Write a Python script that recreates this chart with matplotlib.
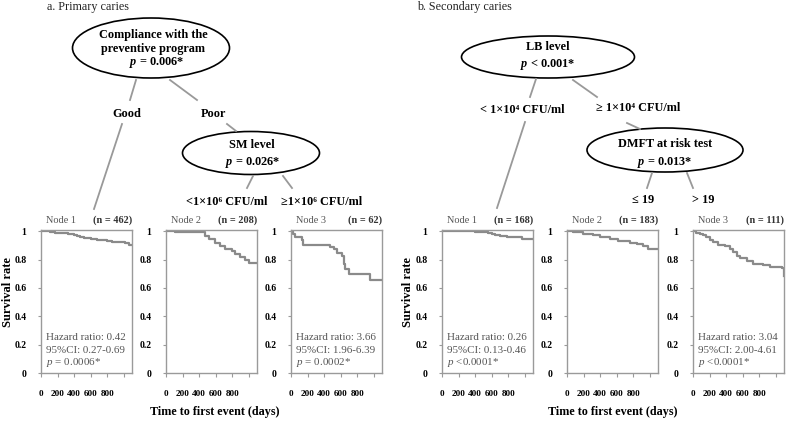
import matplotlib
matplotlib.use("Agg")
import matplotlib.pyplot as plt
from matplotlib.patches import Ellipse

plt.rcParams['font.family'] = ['Liberation Serif', 'DejaVu Serif']
plt.rcParams['mathtext.fontset'] = 'custom'
plt.rcParams['mathtext.rm'] = 'Liberation Serif'
plt.rcParams['mathtext.it'] = 'Liberation Serif:italic'
plt.rcParams['mathtext.bf'] = 'Liberation Serif:bold'
plt.rcParams['mathtext.bfit'] = 'Liberation Serif:italic:bold'

# ---------------- data ----------------
x_ticks = [0, 200, 400, 600, 800, 1000]
x_ticklabels = ["0", "200", "400", "600", "800", ""]
y_ticks = [0, 0.2, 0.4, 0.6, 0.8, 1.0]
y_ticklabels = ["0", "0.2", "0.4", "0.6", "0.8", "1"]
x_max = 1100

# Panel a (primary caries)
a1_t = [0, 60, 110, 170, 230, 271, 330, 393, 430, 474, 520, 555, 610, 676, 740, 798, 860, 919, 970, 1020, 1061]
a1_s = [1.0, 0.998, 0.993, 0.990, 0.987, 0.984, 0.977, 0.970, 0.964, 0.958, 0.953, 0.949, 0.944, 0.939, 0.934, 0.930, 0.926, 0.923, 0.920, 0.916, 0.902]
a2_t = [0, 109, 474, 514, 595, 656, 717, 798, 838, 899, 960, 1000]
a2_s = [1.0, 0.993, 0.965, 0.942, 0.918, 0.895, 0.871, 0.860, 0.836, 0.817, 0.800, 0.778]
a3_t = [0, 20, 49, 130, 150, 474, 514, 555, 616, 636, 656, 697, 960]
a3_s = [1.0, 0.977, 0.960, 0.940, 0.900, 0.888, 0.871, 0.848, 0.825, 0.766, 0.730, 0.700, 0.654]

# Panel b (secondary caries)
b1_t = [0, 400, 560, 600, 640, 700, 780, 964]
b1_s = [1.0, 0.997, 0.990, 0.980, 0.975, 0.967, 0.960, 0.947]
b2_t = [0, 73, 194, 316, 397, 518, 620, 761, 842, 923, 984]
b2_s = [1.0, 0.993, 0.981, 0.970, 0.960, 0.946, 0.930, 0.918, 0.906, 0.895, 0.871]
b3_t = [0, 40, 81, 120, 162, 200, 243, 304, 385, 446, 486, 527, 567, 648, 729, 851, 932, 1073, 1094]
b3_s = [1.0, 0.99, 0.981, 0.97, 0.958, 0.94, 0.922, 0.899, 0.894, 0.875, 0.852, 0.828, 0.810, 0.793, 0.770, 0.762, 0.746, 0.741, 0.687]

node_names = ["Node 1", "Node 2", "Node 3"]
a_n = ["(n = 462)", "(n = 208)", "(n = 62)"]
b_n = ["(n = 168)", "(n = 183)", "(n = 111)"]
a_stats = {0: ["Hazard ratio: 0.42", "95%CI: 0.27-0.69", "$p$ = 0.0006*"],
           2: ["Hazard ratio: 3.66", "95%CI: 1.96-6.39", "$p$ = 0.0002*"]}
b_stats = {0: ["Hazard ratio: 0.26", "95%CI: 0.13-0.46", "$p$ <0.0001*"],
           2: ["Hazard ratio: 3.04", "95%CI: 2.00-4.61", "$p$ <0.0001*"]}

# ---------------- figure ----------------
W, H = 787, 423
fig = plt.figure(figsize=(W / 100, H / 100), dpi=100)

curve_col = "#8a8a8a"
frame_col = "#9a9a9a"
txt_gray = "#555555"

ax_top, ax_bot = 230, 373
ax_w = 91


def make_axes(left_px, t, s, title, ntxt, stats):
    ax = fig.add_axes([left_px / W, 1 - ax_bot / H, ax_w / W, (ax_bot - ax_top) / H])
    tt = list(t) + [x_max]
    ss = list(s) + [s[-1]]
    ax.step(tt, ss, where='post', color=curve_col, lw=1.6)
    ax.set_xlim(0, x_max)
    ax.set_ylim(0, 1.008)
    ax.set_xticks(x_ticks)
    ax.set_xticklabels(x_ticklabels, fontsize=6.6, fontweight='bold')
    ax.set_yticks(y_ticks)
    ax.set_yticklabels(y_ticklabels, fontsize=7, fontweight='bold')
    ax.tick_params(axis='x', length=3, width=0.8, color=frame_col, pad=9)
    ax.tick_params(axis='y', length=2.5, width=0.8, color=frame_col, pad=8)
    for sp in ax.spines.values():
        sp.set_color(frame_col)
        sp.set_linewidth(1.0)
    ax.text(0.06, 1.035, title, transform=ax.transAxes, fontsize=7.4,
            color=txt_gray, ha='left', va='bottom')
    ax.text(1.0, 1.035, ntxt, transform=ax.transAxes, fontsize=7.4,
            color="#333333", fontweight='bold', ha='right', va='bottom')
    if stats:
        for i, line in enumerate(stats):
            ax.text(0.055, 0.245 - i * 0.087, line, transform=ax.transAxes,
                    fontsize=7.9, color=txt_gray, ha='left', va='center')
    return ax


a_lefts = [41, 166, 291]
b_lefts = [442, 567, 693]
a_data = [(a1_t, a1_s), (a2_t, a2_s), (a3_t, a3_s)]
b_data = [(b1_t, b1_s), (b2_t, b2_s), (b3_t, b3_s)]
for i in range(3):
    make_axes(a_lefts[i], a_data[i][0], a_data[i][1], node_names[i], a_n[i], a_stats.get(i))
    make_axes(b_lefts[i], b_data[i][0], b_data[i][1], node_names[i], b_n[i], b_stats.get(i))

# axis labels
fig.text(8 / W, 1 - 292 / H, "Survival rate", rotation=90, fontsize=9,
         fontweight='bold', ha='center', va='center')
fig.text(408 / W, 1 - 292 / H, "Survival rate", rotation=90, fontsize=9,
         fontweight='bold', ha='center', va='center')
fig.text(215 / W, 1 - 412 / H, "Time to first event (days)", fontsize=8.7,
         fontweight='bold', ha='center', va='center')
fig.text(613 / W, 1 - 412 / H, "Time to first event (days)", fontsize=8.7,
         fontweight='bold', ha='center', va='center')

# ---------------- tree overlay (pixel coords) ----------------
ov = fig.add_axes([0, 0, 1, 1])
ov.set_xlim(0, W)
ov.set_ylim(H, 0)
ov.axis('off')
ov.patch.set_alpha(0)

line_col = "#999999"
segments = [((136, 80), (130, 100)), ((122, 124), (94, 209)),
            ((170, 80), (197, 100)), ((227, 124), (236, 131)),
            ((253, 176), (247, 188)), ((283, 176), (292, 188)),
            ((536, 79), (530, 97)), ((525, 122), (497, 208)),
            ((573, 80), (597, 97)), ((627, 123), (640, 129)),
            ((652, 173), (647, 188)), ((687, 173), (693, 188))]
for (x0, y0), (x1, y1) in segments:
    ov.plot([x0, x1], [y0, y1], color=line_col, lw=1.3)

ellipses = [(151, 48, 157, 60), (251, 153, 137, 43), (548, 57, 173, 42), (665, 150, 156, 44)]
for cx, cy, ew, eh in ellipses:
    ov.add_patch(Ellipse((cx, cy), ew, eh, facecolor='white', edgecolor='black', lw=1.2))

bold_fs = 8.8
labels = [
    (153, 35, "Compliance with the"),
    (153, 49, "preventive program"),
    (157, 63, r"$\mathbfit{p}$ = 0.006*"),
    (127, 114, "Good"),
    (213, 114, "Poor"),
    (252, 145, "SM level"),
    (253, 163, r"$\mathbfit{p}$ = 0.026*"),
    (227, 202, "<1×10⁶ CFU/ml"),
    (322, 202, "≥1×10⁶ CFU/ml"),
    (548, 47, "LB level"),
    (548, 64, r"$\mathbfit{p}$ < 0.001*"),
    (522, 110, "< 1×10⁴ CFU/ml"),
    (638, 108, "≥ 1×10⁴ CFU/ml"),
    (665, 144, "DMFT at risk test"),
    (665, 163, r"$\mathbfit{p}$ = 0.013*"),
    (643, 200, "≤ 19"),
    (703, 200, "> 19"),
]
for x, y, s in labels:
    ov.text(x, y, s, fontsize=bold_fs, fontweight='bold', ha='center', va='center')

ov.text(47, 7, "a. Primary caries", fontsize=8.7, ha='left', va='center', color="#222222")
ov.text(417, 7, "b. Secondary caries", fontsize=8.7, ha='left', va='center', color="#222222")

fig.savefig("out.png", dpi=100)
